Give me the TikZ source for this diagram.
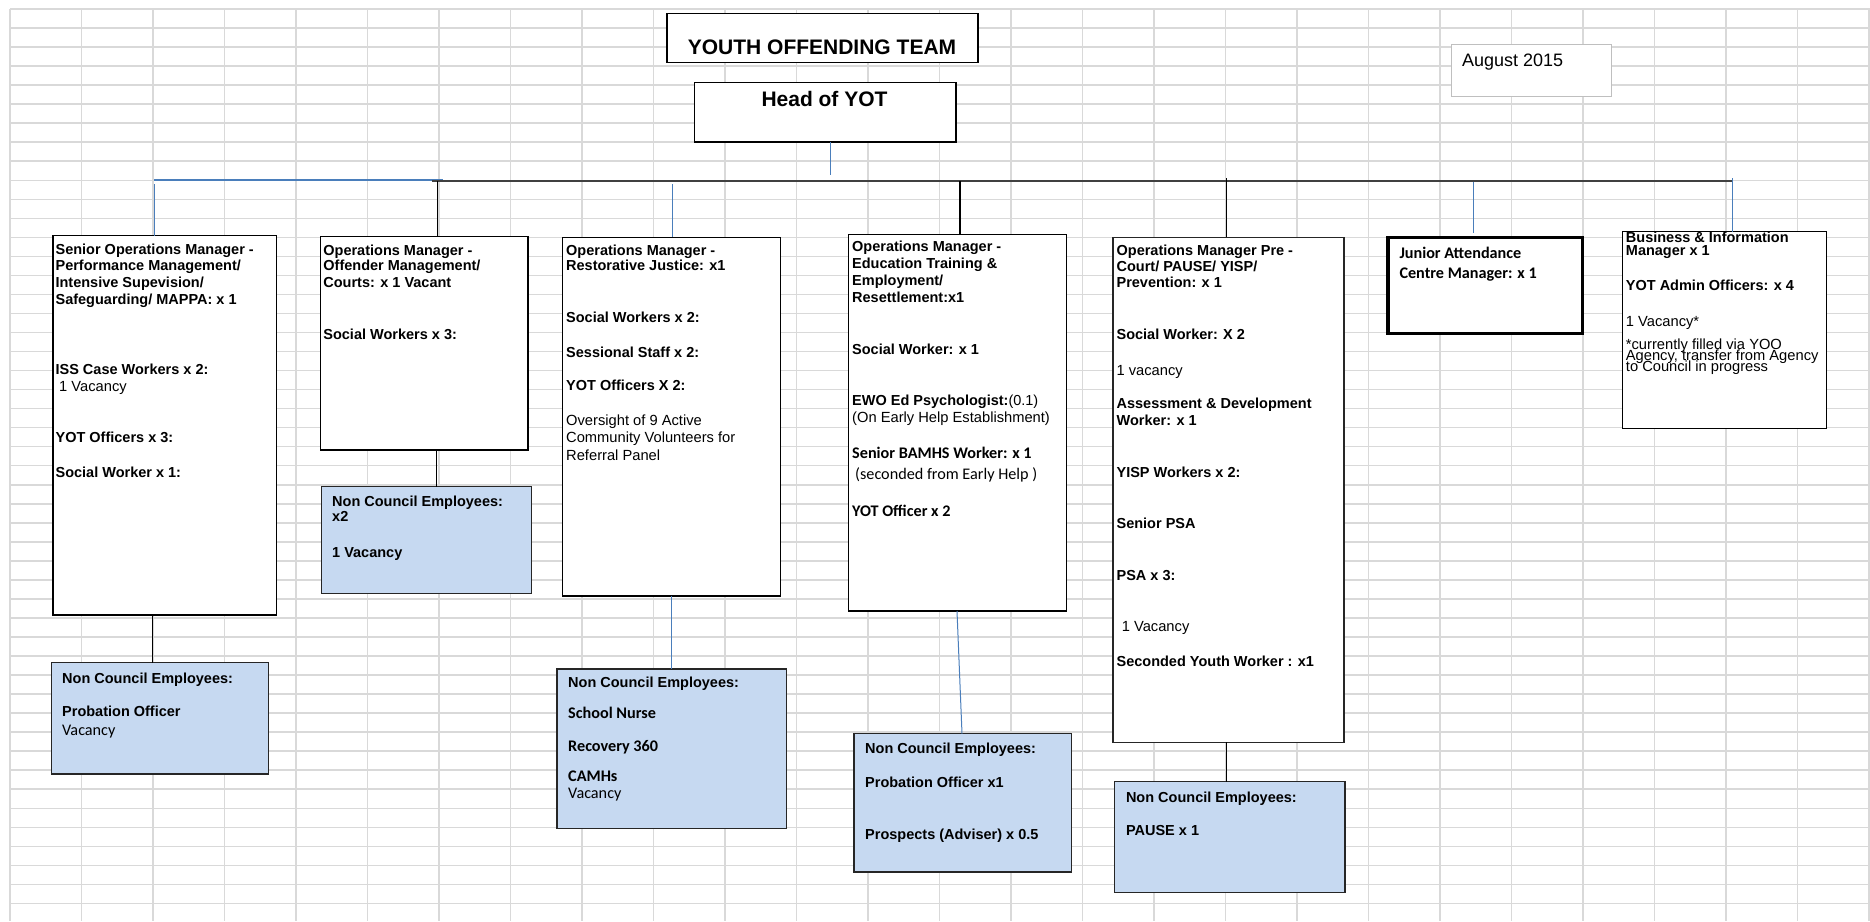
\documentclass[tikz,border=0pt]{standalone}
\usepackage{fontspec}
\setmainfont{Liberation Sans}
\newfontfamily\fA[WordSpace=1.5]{Liberation Sans}
\newfontfamily\fT{Liberation Sans}
\newfontfamily\fC{Carlito}
\definecolor{gridc}{HTML}{D9D9D9}
\definecolor{ncfill}{HTML}{C6D9F1}
\definecolor{lnblue}{HTML}{4A7EBB}
\newcount\lnc
\newcommand\tx[4]{\global\advance\lnc by 1\relax\node[anchor=base west,inner sep=0pt,#1] (ln\the\lnc) at (#2,#3) {#4};}
\tikzset{
  gridln/.style={draw=gridc,line width=1.5pt},
  box/.style={draw=black,fill=white,line width=1.3pt,inner sep=0pt,outer sep=0pt,anchor=north west},
  ncbox/.style={box,fill=ncfill,draw=black!85},
  b/.style={font=\fA\bfseries\fontsize{14.5}{17}\selectfont},
  r/.style={font=\fA\fontsize{14.7}{17}\selectfont},
  cb/.style={font=\fC\bfseries\fontsize{16.2}{18}\selectfont},
  cr/.style={font=\fC\fontsize{16.2}{18}\selectfont},
  bl/.style={draw=lnblue,line width=1pt},
  bk/.style={draw=black,line width=1.1pt},
}
\begin{document}
\begin{tikzpicture}[x=1pt,y=-1pt]
\useasboundingbox (0,0) rectangle (1870,921);
\fill[white] (0,0) rectangle (1870,921);
% spreadsheet grid
\foreach \k in {0,...,26} \draw[gridln] ({10+71.5*\k},9) -- ({10+71.5*\k},921);
\foreach \k in {0,...,47} \draw[gridln] (10,{9+19.03*\k}) -- (1870,{9+19.03*\k});

% title boxes
\node[box,minimum width=311pt,minimum height=49pt] (ttl) at (667,13.3) {};
\node[anchor=base,inner sep=0pt,font=\fT\bfseries\fontsize{21}{24}\selectfont] (ttlT) at (822,54.3) {YOUTH OFFENDING TEAM};
\node[box,minimum width=261.4pt,minimum height=59.7pt] (head) at (694.6,82.3) {};
\node[anchor=base,inner sep=0pt,font=\fT\bfseries\fontsize{21}{24}\selectfont] (headT) at (824.5,106) {Head of YOT};
\node[box,draw=black!25,line width=1pt,minimum width=160.6pt,minimum height=52pt] (aug) at (1451,44.3) {};
\node[anchor=base west,inner sep=0pt,font=\fT\fontsize{18}{20}\selectfont] (augT) at (1461.8,66.7) {August 2015};

% connectors from head
\coordinate (hb) at (830,175);
\draw[bl] (head.south -| hb) -- (hb);
\coordinate (busL) at (154,180);
\coordinate (busLe) at (443,180);
\coordinate (busR0) at (432,181);
\coordinate (busR1) at (1732,181);
\draw[bl,line width=1.3pt] (busL) -- (busLe);
\draw[draw=black!75,line width=1.8pt] (busR0) -- (busR1);

% boxes
\node[box,minimum width=223.9pt,minimum height=379.3pt] (sen) at (52.9,235.7) {};
\node[box,minimum width=207.6pt,minimum height=213.3pt] (off) at (320.4,236.7) {};
\node[ncbox,minimum width=210pt,minimum height=106.6pt] (offnc) at (321.4,486.7) {};
\node[box,minimum width=218.2pt,minimum height=358.7pt] (res) at (562.5,237.3) {};
\node[ncbox,minimum width=229.4pt,minimum height=159.3pt] (resnc) at (557,669) {};
\node[box,minimum width=218.2pt,minimum height=376.3pt] (edu) at (848.6,234.7) {};
\node[ncbox,minimum width=217.4pt,minimum height=138.3pt] (edunc) at (854,733.7) {};
\node[box,draw=black!85,minimum width=231.1pt,minimum height=505pt] (pre) at (1112.9,237.3) {};
\node[ncbox,minimum width=230.7pt,minimum height=110.6pt] (prenc) at (1114.3,781.7) {};
\node[box,line width=3.5pt,minimum width=194.7pt,minimum height=95.6pt] (jun) at (1388,237.7) {};
\node[box,minimum width=204.4pt,minimum height=196.6pt] (bus) at (1622.3,231.7) {};
\node[ncbox,minimum width=217pt,minimum height=111.3pt] (sennc) at (51.8,662.7) {};

% drops from the bus line
\coordinate (d1) at (154,184);
\coordinate (d2) at (437.5,181);
\coordinate (d3) at (672,184);
\coordinate (d4) at (960,181);
\coordinate (d5) at (1226.8,178);
\coordinate (d6) at (1473.8,182);
\coordinate (d7) at (1732,178);
\draw[bl] (d1) -- (d1 |- sen.north);
\draw[bk] (d2) -- (d2 |- off.north);
\draw[bl] (d3) -- (d3 |- res.north);
\draw[bk] (d4) -- (d4 |- edu.north);
\draw[bk] (d5) -- (d5 |- pre.north);
\draw[bl,shorten >=4.5pt] (d6) -- (d6 |- jun.north);
\draw[bl] (d7) -- (d7 |- bus.north);

% lower connectors
\coordinate (s1) at (152.6,0);
\coordinate (s2) at (436.4,0);
\coordinate (s3) at (671.4,0);
\coordinate (s4a) at (957,0);
\coordinate (s4b) at (962,0);
\coordinate (s5) at (1226.4,0);
\draw[bk] (s1 |- sen.south) -- (s1 |- sennc.north);
\draw[bk] (s2 |- off.south) -- (s2 |- offnc.north);
\draw[bl] (s3 |- res.south) -- (s3 |- resnc.north);
\draw[bl] (s4a |- edu.south) -- (s4b |- edunc.north);
\draw[bk] (s5 |- pre.south) -- (s5 |- prenc.north);

% Senior Operations Manager
\tx{b}{55.4}{254}{Senior Operations Manager -}
\tx{b}{55.4}{270.7}{Performance Management/}
\tx{b}{55.4}{287.7}{Intensive Supevision/}
\tx{b}{55.4}{304.3}{Safeguarding/ MAPPA: x 1}
\tx{b}{55.4}{374}{ISS Case Workers x 2:}
\tx{r}{59}{391}{1 Vacancy}
\tx{b}{55.4}{442}{YOT Officers x 3:}
\tx{b}{55.4}{477}{Social Worker x 1:}
\tx{b}{62}{683.3}{Non Council Employees:}
\tx{b}{62}{716.7}{Probation Officer}
\tx{cr}{62}{735}{Vacancy}

% Offender Management
\tx{b}{323.2}{255}{Operations Manager -}
\tx{b}{323.2}{270.7}{Offender Management/}
\tx{b}{323.2}{287.7}{Courts: x 1 Vacant}
\tx{b}{323.2}{339.3}{Social Workers x 3:}
\tx{b}{332}{506}{Non Council Employees:}
\tx{b}{332}{521.7}{x2}
\tx{b}{332}{557.7}{1 Vacancy}

% Restorative Justice
\tx{b}{566}{255}{Operations Manager -}
\tx{b}{566}{270.7}{Restorative Justice: x1}
\tx{b}{566}{322.7}{Social Workers x 2:}
\tx{b}{566}{357.3}{Sessional Staff x 2:}
\tx{b}{566}{390}{YOT Officers X 2:}
\tx{r}{566}{425.7}{Oversight of 9 Active}
\tx{r}{566}{442.7}{Community Volunteers for}
\tx{r}{566}{460}{Referral Panel}
\tx{b}{568}{687.3}{Non Council Employees:}
\tx{cb}{568}{718.3}{School Nurse}
\tx{cb}{568}{751.7}{Recovery 360}
\tx{cb}{568}{781.7}{CAMHs}
\tx{cr}{568}{798.3}{Vacancy}

% Education Training
\tx{b}{852}{251.7}{Operations Manager -}
\tx{b}{852}{268.7}{Education Training \&}
\tx{b}{852}{285}{Employment/}
\tx{b}{852}{302.7}{Resettlement:x1}
\tx{b}{852}{354}{Social Worker: x 1}
\tx{b}{852}{405.7}{EWO Ed Psychologist:{\fA\mdseries(0.1)}}
\tx{r}{852}{422.7}{(On Early Help Establishment)}
\tx{cb}{852}{458.3}{Senior BAMHS Worker: x 1}
\tx{cr}{855}{479}{(seconded from Early Help )}
\tx{cb}{852}{516}{YOT Officer x 2}
\tx{b}{865}{753.3}{Non Council Employees:}
\tx{b}{865}{787.3}{Probation Officer x1}
\tx{b}{865}{839.3}{Prospects (Adviser) x 0.5}

% Pre-Court
\tx{b}{1116.4}{255}{Operations Manager Pre -}
\tx{b}{1116.4}{271}{Court/ PAUSE/ YISP/}
\tx{b}{1116.4}{287.7}{Prevention: x 1}
\tx{b}{1116.4}{339.3}{Social Worker: X 2}
\tx{r}{1116.4}{375}{1 vacancy}
\tx{b}{1116.4}{408.7}{Assessment \& Development}
\tx{b}{1116.4}{425.7}{Worker: x 1}
\tx{b}{1116.4}{477.7}{YISP Workers x 2:}
\tx{b}{1116.4}{528.3}{Senior PSA}
\tx{b}{1116.4}{580.7}{PSA x 3:}
\tx{r}{1121.6}{631.7}{1 Vacancy}
\tx{b}{1116.4}{666.7}{Seconded Youth Worker : x1}
\tx{b}{1125.8}{802}{Non Council Employees:}
\tx{b}{1125.8}{835}{PAUSE x 1}

% Junior Attendance
\tx{cb}{1399.3}{258.3}{Junior Attendance}
\tx{cb}{1399.3}{278.3}{Centre Manager: x 1}

% Business & Information
\tx{b}{1625.7}{242.7}{Business \& Information}
\tx{b}{1625.7}{255}{Manager x 1}
\tx{b}{1625.7}{290.7}{YOT Admin Officers: x 4}
\tx{r}{1625.7}{326.7}{1 Vacancy*}
\tx{r}{1625.7}{349}{*currently filled via YOO}
\tx{r}{1625.7}{360.7}{Agency, transfer from Agency}
\tx{r}{1625.7}{371.7}{to Council in progress}
\end{tikzpicture}
\end{document}
